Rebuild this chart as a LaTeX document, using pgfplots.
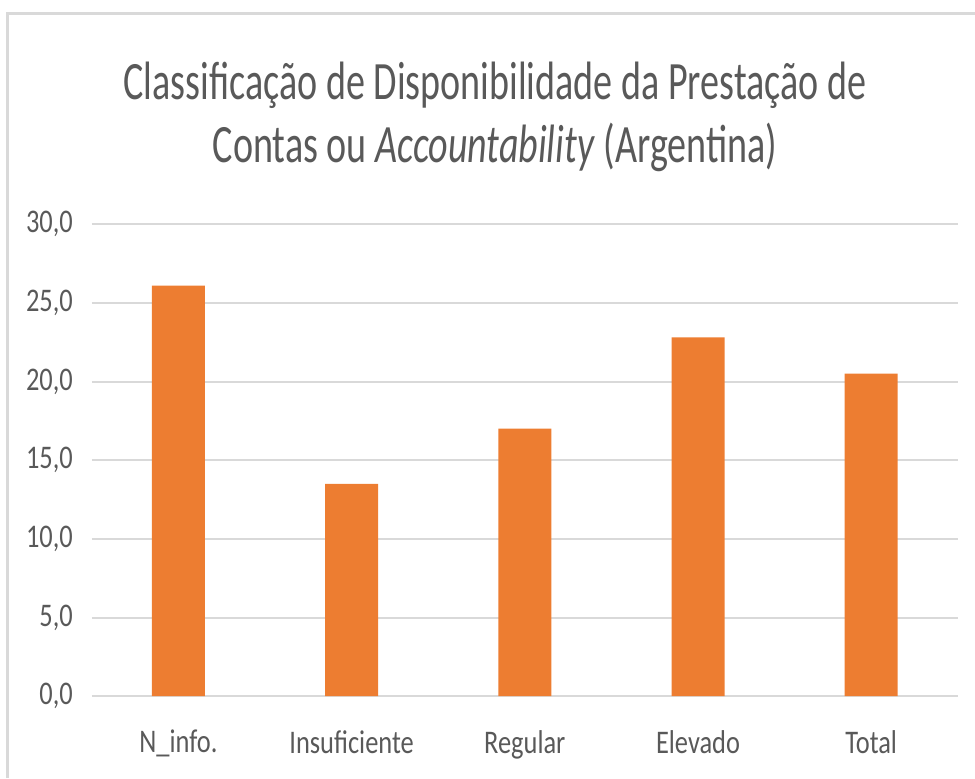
\documentclass[border=0pt]{standalone}
\usepackage{pgfplots}
\pgfplotsset{compat=1.18}
\usepackage{fontspec}
\setmainfont{Carlito}[FakeStretch=0.8]
\newfontfamily\titlefont{Carlito}[FakeStretch=0.705]
\definecolor{barorange}{HTML}{ED7D31}
\definecolor{txtgray}{HTML}{595959}
\definecolor{gridgray}{HTML}{D9D9D9}
\begin{document}
\begin{tikzpicture}[x=1pt,y=1pt]
\path[use as bounding box] (0,0) rectangle (487.5,389);
\draw[gridgray, line width=1.5pt] (3.5,0) -- (3.5,382) -- (487.5,382);
\node[align=center, text=txtgray, font=\titlefont\fontsize{27}{31.5}\selectfont] at (247.5,330.75)
  {Classificação de Disponibilidade da Prestação de\\Contas ou \textit{Accountability} (Argentina)};
\begin{axis}[
  at={(53,52)}, anchor=south west,
  scale only axis, width=433pt, height=236pt,
  xmin=-0.5, xmax=4.5, ymin=0, ymax=30,
  ytick={0,5,10,15,20,25,30},
  xtick={0,1,2,3,4},
  xticklabels={N\_info.,Insuficiente,Regular,Elevado,Total},
  axis line style={draw=none},
  major tick length=0pt,
  ymajorgrids, major grid style={gridgray, line width=1pt},
  tick label style={text=txtgray, font=\fontsize{16.5}{19}\selectfont},
  yticklabel style={xshift=-6pt},
  xticklabel style={yshift=-13.5pt},
  /pgf/number format/.cd, fixed, fixed zerofill, precision=1, use comma, assume math mode=true,
]
\addplot[ybar, bar width=26.5pt, fill=barorange, draw=none] coordinates {
  (0,26.1) (1,13.5) (2,17.0) (3,22.8) (4,20.5)
};
\end{axis}
\end{tikzpicture}
\end{document}
